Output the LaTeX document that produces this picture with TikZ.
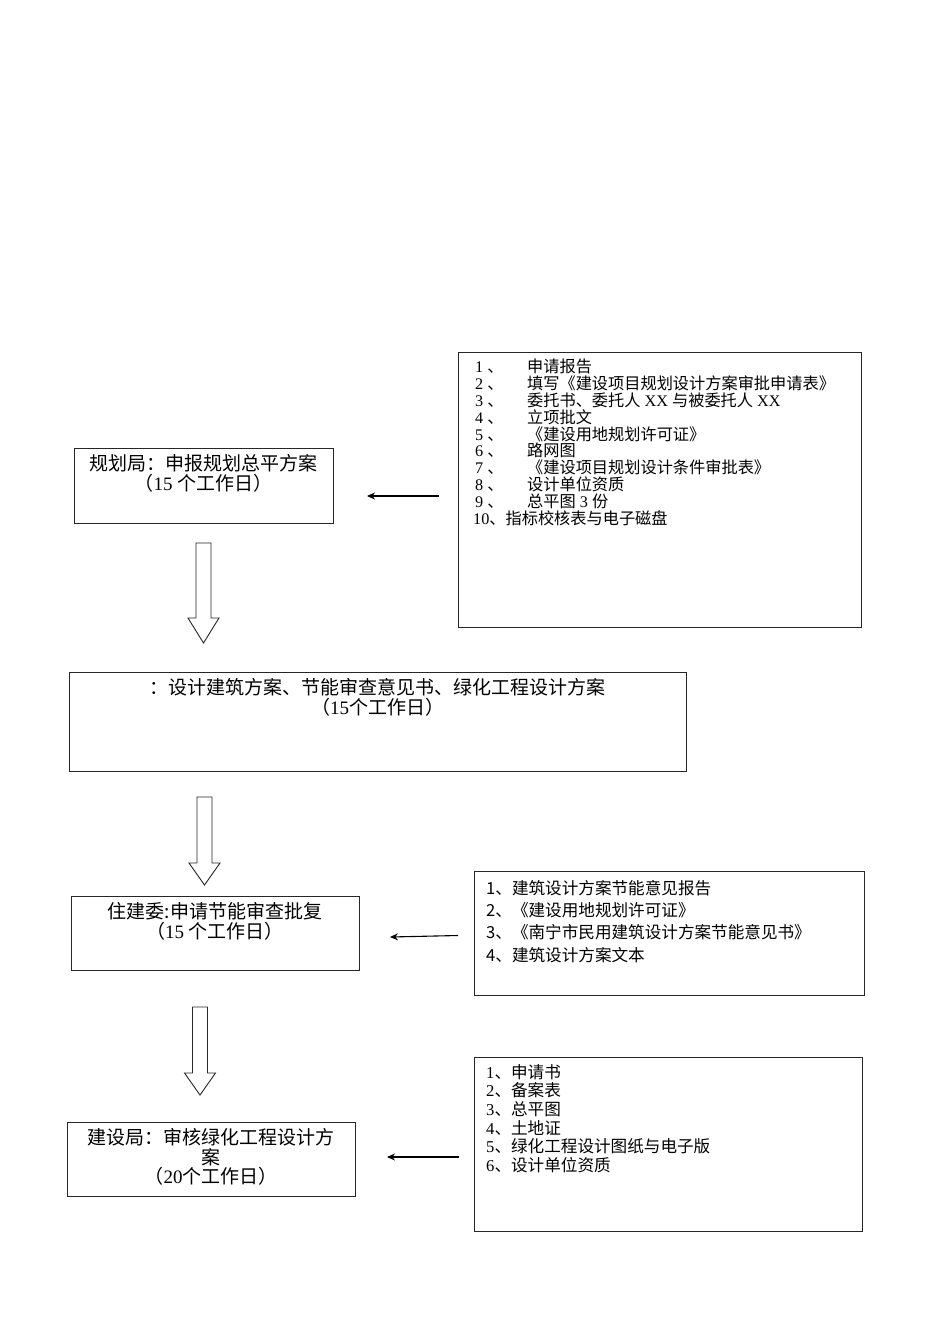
\documentclass[tikz,border=0pt]{standalone}
\usepackage{fontspec}
\setmainfont{Noto Sans CJK SC}
\newfontfamily\lat{Liberation Serif}
\usepackage{tikz}
\usetikzlibrary{positioning,arrows.meta}

\tikzset{
  box/.style={draw=black!85, line width=0.9pt, inner sep=0pt},
  lbl/.style={inner sep=0pt, align=center, font=\fontsize{19}{19.5}\selectfont},
  list/.style={inner sep=0pt, align=left, anchor=north west},
  feed/.style={line width=1.1pt, -{Stealth[length=8pt,width=7pt]}},
  hollow/.style={draw=black!85, line width=0.9pt, fill=white}
}
\newcommand{\num}[1]{\makebox[54pt][l]{\hspace{2pt}{\lat #1\ }、}}
\newcommand{\days}[1]{（{\lat #1 }个工作日）}

\begin{document}
\begin{tikzpicture}[x=1pt,y=-1pt]
  \useasboundingbox (0,0) rectangle (950,1344);

  % right column: papers to hand in
  \node[box, minimum width=403, minimum height=275] (docsA) at (659.5,489.5) {};
  \node[list, font=\fontsize{16.2}{16.8}\selectfont] (listA) at (473,359) {%
    \num{1}申请报告\\
    \num{2}填写《建设项目规划设计方案审批申请表》\\
    \num{3}委托书、委托人{\lat\ XX }与被委托人{\lat\ XX}\\
    \num{4}立项批文\\
    \num{5}《建设用地规划许可证》\\
    \num{6}路网图\\
    \num{7}《建设项目规划设计条件审批表》\\
    \num{8}设计单位资质\\
    \num{9}总平图{\lat\ 3 }份\\
    {\lat 10}、指标校核表与电子磁盘};

  \node[box, minimum width=390, minimum height=124] (docsE) at (669,933) {};
  \node[list, font=\fontsize{16.6}{22.3}\selectfont] (listE) at (486,880) {%
    1、建筑设计方案节能意见报告\\
    2、《建设用地规划许可证》\\
    3、《南宁市民用建筑设计方案节能意见书》\\
    4、建筑设计方案文本};

  \node[box, minimum width=388, minimum height=174] (docsG) at (668,1144) {};
  \node[list, font=\fontsize{16.6}{18.7}\selectfont] (listG) at (486,1064) {%
    {\lat 1}、申请书\\
    {\lat 2}、备案表\\
    {\lat 3}、总平图\\
    {\lat 4}、土地证\\
    {\lat 5}、绿化工程设计图纸与电子版\\
    {\lat 6}、设计单位资质};

  % left column: steps
  \node[box, minimum width=259, minimum height=75] (plan) at (203.5,485.5) {};
  \node[lbl, below=7pt of plan.north] {规划局：申报规划总平方案\\\days{15}};

  \node[box, minimum width=617, minimum height=99] (design) at (377.5,721.5) {};
  \node[lbl, below=7pt of design.north] {：设计建筑方案、节能审查意见书、绿化工程设计方案\\（{\lat 15}个工作日）};

  \node[box, minimum width=288, minimum height=74] (energy) at (215,933) {};
  \node[lbl, below=7pt of energy.north] {住建委:申请节能审查批复\\\days{15}};

  \node[box, minimum width=288, minimum height=74] (green) at (211,1159) {};
  \node[lbl, below=7pt of green.north] {建设局：审核绿化工程设计方\\案\\（{\lat 20}个工作日）};

  % hollow arrows between steps
  \foreach \cx/\ytop/\yhead/\ytip in {203.5/543/618/643, 204.5/797/863/885, 200/1007/1073/1095}
    \draw[hollow] (\cx-7.5,\ytop) -- (\cx+7.5,\ytop) -- (\cx+7.5,\yhead) -- (\cx+15.5,\yhead)
      -- (\cx,\ytip) -- (\cx-15.5,\yhead) -- (\cx-7.5,\yhead) -- cycle;

  % feed arrows
  \coordinate (fa1) at (439,496);
  \coordinate (fa2) at (367,496);
  \coordinate (fe1) at (458,935.5);
  \coordinate (fe2) at (390,937);
  \coordinate (fg1) at (459,1157);
  \coordinate (fg2) at (387,1157);
  \draw[feed] (fa1) -- (fa2);
  \draw[feed] (fe1) -- (fe2);
  \draw[feed] (fg1) -- (fg2);
\end{tikzpicture}
\end{document}
